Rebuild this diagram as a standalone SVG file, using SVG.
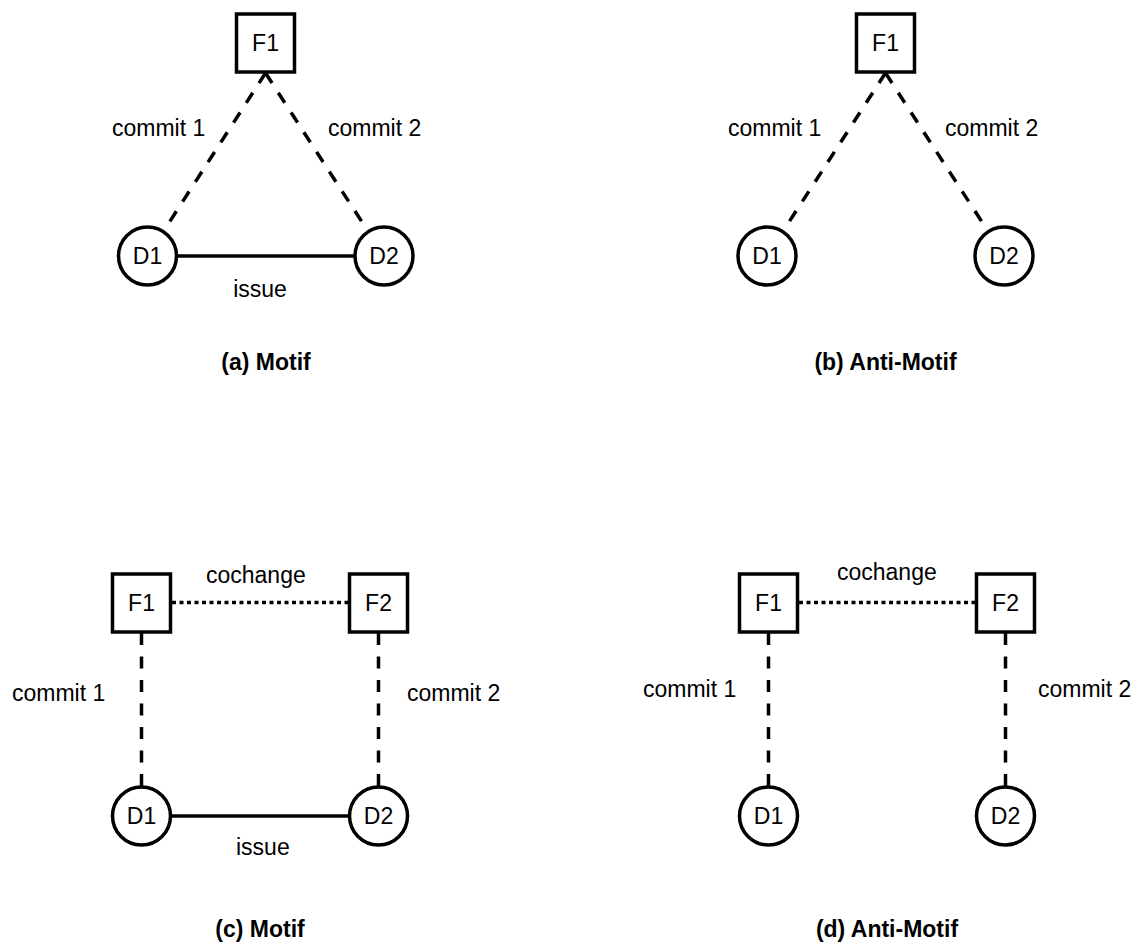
<svg xmlns="http://www.w3.org/2000/svg" width="1138" height="949" viewBox="0 0 1138 949">
  <style>
    .file { fill: #fff; stroke: #000; stroke-width: 3.5; }
    .dev { fill: #fff; stroke: #000; stroke-width: 3.5; }
    .lbl { font-family: "Liberation Sans", Arial, sans-serif; font-size: 23px; fill: #000; }
    .mid { text-anchor: middle; }
    .cap { font-family: "Liberation Sans", Arial, sans-serif; font-size: 23px; font-weight: bold; fill: #000; text-anchor: middle; }
    .commit { stroke: #000; stroke-width: 3.5; fill: none; stroke-dasharray: 12 11.5; }
    .issue { stroke: #000; stroke-width: 3.5; fill: none; }
    .cochange { stroke: #000; stroke-width: 3.5; fill: none; stroke-dasharray: 4 3.5; }
  </style>

  <!-- connectors -->
  <g id="connectors">
    <!-- (a) -->
    <line class="commit" x1="265.5" y1="73" x2="164" y2="230.5"/>
    <line class="commit" x1="265.5" y1="73" x2="367.5" y2="230.5"/>
    <line class="issue" x1="177" y1="256" x2="354.5" y2="256"/>
    <!-- (b) -->
    <line class="commit" x1="885.5" y1="73" x2="783.5" y2="230.5"/>
    <line class="commit" x1="885.5" y1="73" x2="987.5" y2="230.5"/>
    <!-- (c) -->
    <line class="cochange" x1="172" y1="602.5" x2="348" y2="602.5"/>
    <line class="commit" x1="141.5" y1="633" x2="141.5" y2="786"/>
    <line class="commit" x1="378.5" y1="633" x2="378.5" y2="786"/>
    <line class="issue" x1="172" y1="816" x2="348" y2="816"/>
    <!-- (d) -->
    <line class="cochange" x1="799" y1="602.5" x2="975" y2="602.5"/>
    <line class="commit" x1="768.5" y1="633" x2="768.5" y2="786"/>
    <line class="commit" x1="1005.5" y1="633" x2="1005.5" y2="786"/>
  </g>

  <!-- edge labels -->
  <g id="edge-labels">
    <text class="lbl" x="112" y="136">commit 1</text>
    <text class="lbl" x="328" y="136">commit 2</text>
    <text class="lbl mid" x="260" y="297">issue</text>

    <text class="lbl" x="728" y="136">commit 1</text>
    <text class="lbl" x="945" y="136">commit 2</text>

    <text class="lbl" x="206" y="583">cochange</text>
    <text class="lbl" x="12" y="701">commit 1</text>
    <text class="lbl" x="407" y="701">commit 2</text>
    <text class="lbl" x="236" y="855">issue</text>

    <text class="lbl" x="837" y="580">cochange</text>
    <text class="lbl" x="643" y="697">commit 1</text>
    <text class="lbl" x="1038" y="697">commit 2</text>
  </g>

  <!-- (a) Motif -->
  <g id="a-F1">
    <rect class="file" x="236.5" y="14" width="58" height="58"/>
    <text class="lbl mid" x="265.5" y="51">F1</text>
  </g>
  <g id="a-D1">
    <circle class="dev" cx="147.5" cy="256" r="29"/>
    <text class="lbl mid" x="147.5" y="264">D1</text>
  </g>
  <g id="a-D2">
    <circle class="dev" cx="384" cy="256" r="29"/>
    <text class="lbl mid" x="384" y="264">D2</text>
  </g>
  <text class="cap" x="266" y="370">(a) Motif</text>

  <!-- (b) Anti-Motif -->
  <g id="b-F1">
    <rect class="file" x="856.5" y="14" width="58" height="58"/>
    <text class="lbl mid" x="885.5" y="51">F1</text>
  </g>
  <g id="b-D1">
    <circle class="dev" cx="767" cy="256" r="29"/>
    <text class="lbl mid" x="767" y="264">D1</text>
  </g>
  <g id="b-D2">
    <circle class="dev" cx="1004" cy="256" r="29"/>
    <text class="lbl mid" x="1004" y="264">D2</text>
  </g>
  <text class="cap" x="885.5" y="370">(b) Anti-Motif</text>

  <!-- (c) Motif -->
  <g id="c-F1">
    <rect class="file" x="112.5" y="574" width="58" height="58"/>
    <text class="lbl mid" x="141.5" y="611">F1</text>
  </g>
  <g id="c-F2">
    <rect class="file" x="349.5" y="574" width="58" height="58"/>
    <text class="lbl mid" x="378.5" y="611">F2</text>
  </g>
  <g id="c-D1">
    <circle class="dev" cx="141.5" cy="816" r="29"/>
    <text class="lbl mid" x="141.5" y="824">D1</text>
  </g>
  <g id="c-D2">
    <circle class="dev" cx="378.5" cy="816" r="29"/>
    <text class="lbl mid" x="378.5" y="824">D2</text>
  </g>
  <text class="cap" x="260" y="937">(c) Motif</text>

  <!-- (d) Anti-Motif -->
  <g id="d-F1">
    <rect class="file" x="739.5" y="574" width="58" height="58"/>
    <text class="lbl mid" x="768.5" y="611">F1</text>
  </g>
  <g id="d-F2">
    <rect class="file" x="976.5" y="574" width="58" height="58"/>
    <text class="lbl mid" x="1005.5" y="611">F2</text>
  </g>
  <g id="d-D1">
    <circle class="dev" cx="768.5" cy="816" r="29"/>
    <text class="lbl mid" x="768.5" y="824">D1</text>
  </g>
  <g id="d-D2">
    <circle class="dev" cx="1005.5" cy="816" r="29"/>
    <text class="lbl mid" x="1005.5" y="824">D2</text>
  </g>
  <text class="cap" x="887" y="937">(d) Anti-Motif</text>
</svg>
